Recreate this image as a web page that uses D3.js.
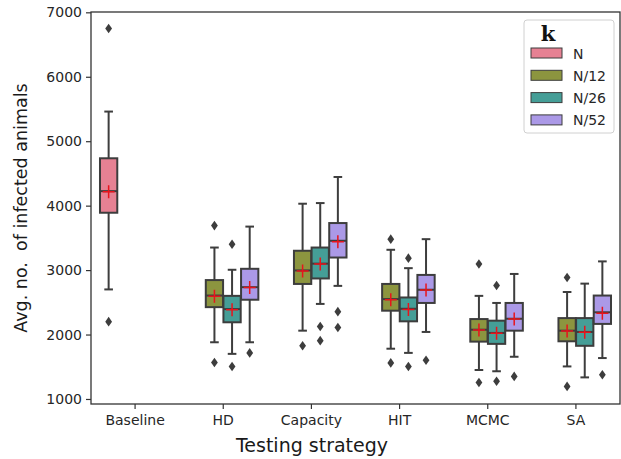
<!doctype html>
<html>
<head>
<meta charset="utf-8" />
<title>Infected animals by testing strategy</title>
<script src="https://d3js.org/d3.v7.min.js"></script>
<style>
  body { margin: 0; background: #fff; }
  svg { font-family: "DejaVu Sans", sans-serif; }
</style>
</head>
<body>
<svg width="621" height="459"></svg>
<script>
// ---- data ----
const strategies = ["Baseline", "HD", "Capacity", "HIT", "MCMC", "SA"];
const kLevels = ["N", "N/12", "N/26", "N/52"];
const kColors = ["#e68193", "#8c953f", "#459e97", "#ab99e7"];

// one entry per drawn box
const boxStrategy = ["Baseline", "HD", "HD", "HD", "Capacity", "Capacity", "Capacity",
                     "HIT", "HIT", "HIT", "MCMC", "MCMC", "MCMC", "SA", "SA", "SA"];
const boxK = ["N", "N/12", "N/26", "N/52", "N/12", "N/26", "N/52",
              "N/12", "N/26", "N/52", "N/12", "N/26", "N/52", "N/12", "N/26", "N/52"];
const whiskerLow  = [2700, 1880, 1700, 1880, 2060, 2475, 2755, 1780, 1715, 2040, 1450, 1430, 1655, 1505, 1335, 1635];
const q1          = [3890, 2425, 2190, 2540, 2785, 2870, 3195, 2370, 2205, 2490, 1890, 1855, 2060, 1895, 1825, 2165];
const median      = [4225, 2605, 2395, 2735, 2995, 3100, 3455, 2550, 2400, 2695, 2075, 2025, 2245, 2060, 2040, 2345];
const q3          = [4735, 2845, 2600, 3020, 3300, 3350, 3730, 2785, 2575, 2925, 2240, 2215, 2490, 2255, 2255, 2605];
const whiskerHigh = [5460, 3350, 3005, 3675, 4030, 4040, 4445, 3315, 3030, 3480, 2600, 2490, 2940, 2660, 2790, 3135];
const means       = [4215, 2595, 2385, 2730, 2985, 3095, 3440, 2540, 2390, 2690, 2070, 2020, 2240, 2055, 2035, 2330];
const outliers = [[6750, 2200], [3690, 1565], [3400, 1505], [1715], [1825], [2125, 1905], [2355, 2110],
                  [3480, 1560], [3185, 1505], [1600], [3095, 1255], [2760, 1275], [1350],
                  [2885, 1195], [], [1375]];
const yTicks = [1000, 2000, 3000, 4000, 5000, 6000, 7000];

// ---- layout ----
const svg = d3.select("svg");
const mLeft = 91, mRight = 620, mTop = 12, mBottom = 404;
const dark = "#3d3d3d";

const x = d3.scaleBand().domain(strategies).range([mLeft, mRight]);
const hue = d3.scaleBand().domain(kLevels).range([0.1, 0.9]).paddingInner(0);
const y = d3.scaleLinear().domain([922, 7005]).range([mBottom, mTop]);
const color = d3.scaleOrdinal().domain(kLevels).range(kColors);

const boxes = boxStrategy.map((s, i) => ({
  s, k: boxK[i], lo: whiskerLow[i], q1: q1[i], med: median[i], q3: q3[i],
  hi: whiskerHigh[i], mean: means[i], out: outliers[i]
}));

const bw = x.bandwidth() * hue.bandwidth() * 0.98;
const cx = d => x(d.s) + x.bandwidth() * (hue(d.k) + hue.bandwidth() / 2);

// axes
const yAxis = svg.append("g").attr("transform", `translate(${mLeft},0)`)
  .call(d3.axisLeft(y).tickValues(yTicks).tickFormat(d3.format("d")).tickSize(5).tickPadding(4));
const xAxis = svg.append("g").attr("transform", `translate(0,${mBottom})`)
  .call(d3.axisBottom(x).tickSize(5).tickPadding(6));
[yAxis, xAxis].forEach(a => {
  a.attr("font-family", "DejaVu Sans, sans-serif").attr("font-size", 14);
  a.select(".domain").remove();
  a.selectAll("line").attr("stroke", "#333").attr("stroke-width", 1.2);
  a.selectAll("text").attr("fill", "#262626");
});

svg.append("rect").attr("x", mLeft).attr("y", mTop)
  .attr("width", mRight - mLeft).attr("height", mBottom - mTop)
  .attr("fill", "none").attr("stroke", "#333").attr("stroke-width", 1.3);

// boxes
const g = svg.append("g").selectAll("g").data(boxes).join("g");

g.append("line")
  .attr("x1", cx).attr("x2", cx)
  .attr("y1", d => y(d.hi)).attr("y2", d => y(d.lo))
  .attr("stroke", dark).attr("stroke-width", 2);
g.selectAll("line.cap").data(d => [d.lo, d.hi].map(v => ({ d, v }))).join("line")
  .attr("class", "cap")
  .attr("x1", e => cx(e.d) - bw / 4).attr("x2", e => cx(e.d) + bw / 4)
  .attr("y1", e => y(e.v)).attr("y2", e => y(e.v))
  .attr("stroke", dark).attr("stroke-width", 2);
g.append("rect")
  .attr("x", d => cx(d) - bw / 2).attr("width", bw)
  .attr("y", d => y(d.q3)).attr("height", d => y(d.q1) - y(d.q3))
  .attr("fill", d => color(d.k)).attr("stroke", dark).attr("stroke-width", 2);
g.append("line")
  .attr("x1", d => cx(d) - bw / 2).attr("x2", d => cx(d) + bw / 2)
  .attr("y1", d => y(d.med)).attr("y2", d => y(d.med))
  .attr("stroke", dark).attr("stroke-width", 2);

// fliers (thin diamonds)
g.selectAll("path.flier").data(d => d.out.map(v => ({ d, v }))).join("path")
  .attr("class", "flier")
  .attr("d", e => {
    const px = cx(e.d), py = y(e.v);
    return `M${px},${py - 4.8}L${px + 3.4},${py}L${px},${py + 4.8}L${px - 3.4},${py}Z`;
  })
  .attr("fill", dark);

// mean markers (red plus)
g.append("path")
  .attr("d", d => {
    const px = cx(d), py = y(d.mean);
    return `M${px - 6},${py}H${px + 6}M${px},${py - 6.5}V${py + 6.5}`;
  })
  .attr("stroke", "#e8141c").attr("stroke-width", 1.5).attr("fill", "none");

// axis titles
svg.append("text")
  .attr("transform", `translate(27,${(mTop + mBottom) / 2}) rotate(-90)`)
  .attr("text-anchor", "middle").style("white-space", "pre")
  .style("font-size", "17.5px").attr("fill", "#1a1a1a")
  .text("Avg. no.  of infected animals");
svg.append("text")
  .attr("x", 312).attr("y", 452)
  .attr("text-anchor", "middle").style("font-size", "19px").attr("fill", "#1a1a1a")
  .text("Testing strategy");

// legend
const lg = svg.append("g").attr("transform", "translate(524,20)");
lg.append("rect").attr("width", 90).attr("height", 113).attr("rx", 3)
  .attr("fill", "#fff").attr("fill-opacity", 0.85).attr("stroke", "#d0d0d0");
lg.append("text").attr("x", 24).attr("y", 21).attr("text-anchor", "middle")
  .style("font-family", "'DejaVu Serif', serif").style("font-weight", "bold")
  .style("font-size", "21px").attr("fill", "#111").text("k");
const rows = lg.selectAll("g.row").data(kLevels).join("g")
  .attr("class", "row").attr("transform", (k, i) => `translate(0,${33 + i * 22.3})`);
rows.append("rect").attr("x", 7).attr("y", -5).attr("width", 31).attr("height", 10)
  .attr("fill", k => color(k)).attr("stroke", dark).attr("stroke-width", 1);
rows.append("text").attr("x", 49).attr("y", 5.5)
  .style("font-size", "14px").attr("fill", "#262626").text(k => k);
</script>
</body>
</html>
